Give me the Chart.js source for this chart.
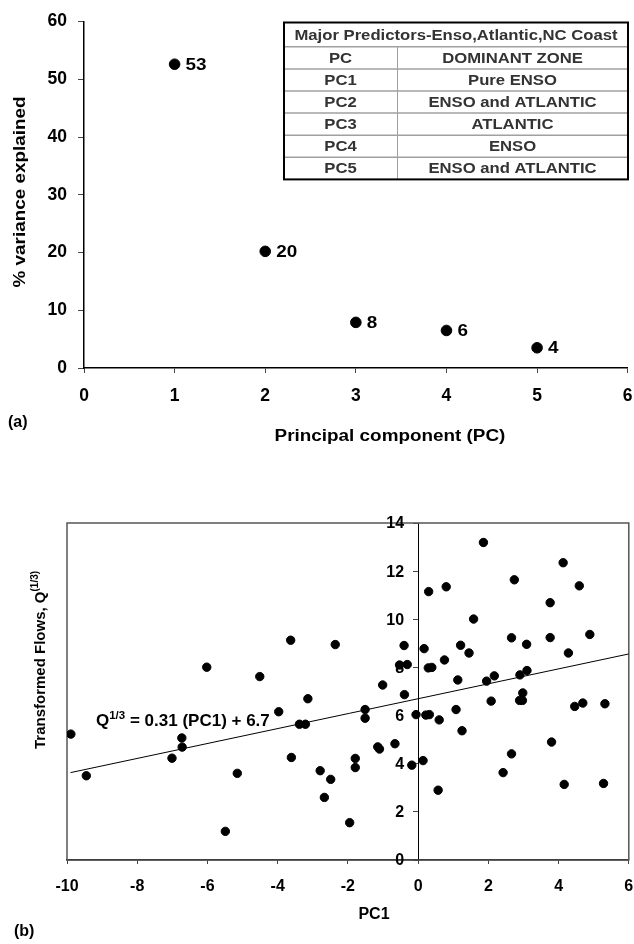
<!DOCTYPE html>
<html>
<head>
<meta charset="utf-8">
<script src="https://cdn.jsdelivr.net/npm/chart.js@4.4.1/dist/chart.umd.min.js"></script>
<style>
  body { margin: 0; background: #fff; }
  #chartA { position: absolute; left: 0; top: 0; }
  #chartB { position: absolute; left: 0; top: 470px; }
</style>
</head>
<body>
<canvas id="chartA" width="634" height="460"></canvas>
<canvas id="chartB" width="634" height="474"></canvas>
<script>
// (a) variance explained by each principal component
const pcNumbers = [1, 2, 3, 4, 5];
const varianceExplained = [52.6, 20.2, 7.9, 6.5, 3.5];
const varianceLabels = ['53', '20', '8', '6', '4'];

const tableTitle = 'Major Predictors-Enso,Atlantic,NC Coast';
const tablePC = ['PC', 'PC1', 'PC2', 'PC3', 'PC4', 'PC5'];
const tableZone = ['DOMINANT ZONE', 'Pure ENSO', 'ENSO and ATLANTIC', 'ATLANTIC', 'ENSO', 'ENSO and ATLANTIC'];

// (b) transformed flows vs PC1
const pc1Scores = [
  -9.89, -9.45, -7.01, -6.73, -6.72, -6.02, -5.49, -5.15, -4.51, -3.97,
  -3.63, -3.61, -3.38, -3.21, -3.14, -2.79, -2.67, -2.49, -2.36, -1.95,
  -1.79, -1.79, -1.51, -1.51, -1.15, -1.10, -1.01, -0.66, -0.53, -0.40,
  -0.39, -0.31, -0.18, -0.06, 0.14, 0.17, 0.22, 0.30, 0.29, 0.32,
  0.39, 0.57, 0.60, 0.75, 0.80, 1.08, 1.13, 1.21, 1.25, 1.45,
  1.58, 1.86, 1.95, 2.08, 2.17, 2.42, 2.66, 2.66, 2.74, 2.89,
  2.97, 2.90, 2.98, 3.09, 3.10, 3.76, 3.76, 3.80, 4.13, 4.16,
  4.28, 4.46, 4.59, 4.69, 4.89, 5.28, 5.32
];
const transformedFlows = [
  5.23, 3.50, 4.23, 5.07, 4.69, 8.01, 1.19, 3.60, 7.62, 6.16,
  9.13, 4.26, 5.64, 5.64, 6.70, 3.71, 2.60, 3.35, 8.95, 1.55,
  4.22, 3.84, 6.25, 5.89, 4.70, 4.61, 7.27, 4.83, 8.10, 8.91,
  6.87, 8.12, 3.94, 6.04, 4.13, 8.78, 6.02, 11.15, 7.98, 6.04,
  8.00, 2.90, 5.82, 8.31, 11.35, 6.25, 7.48, 8.92, 5.37, 8.60,
  10.01, 13.19, 7.43, 6.60, 7.65, 3.63, 4.41, 9.23, 11.64, 6.63,
  6.63, 7.69, 6.94, 8.96, 7.87, 10.69, 9.24, 4.90, 12.35, 3.14,
  8.60, 6.38, 11.39, 6.52, 9.37, 3.18, 6.49
];
const fitLineX = [-9.9, 6];
const fitLineY = [3.63, 8.56];

const FONT = 'Arial, "Liberation Sans", sans-serif';
const WIDE = 1.18; // text in panel (a) is a bit wider than plain Arial

// text stretched horizontally around its own anchor
function wideText(ctx, txt, x, y, align, stretch) {
  ctx.save();
  ctx.translate(x, y);
  ctx.scale(stretch, 1);
  ctx.textAlign = align;
  ctx.fillText(txt, 0, 0);
  ctx.restore();
}

function drawSup(ctx, parts, x, y, size, supSize, rise) {
  let cx = x;
  parts.forEach(function (p) {
    ctx.font = 'bold ' + (p[1] ? supSize : size) + 'px ' + FONT;
    ctx.fillText(p[0], cx, p[1] ? y - rise : y);
    cx += ctx.measureText(p[0]).width;
  });
  return cx - x;
}

function measureSup(ctx, parts, size, supSize) {
  let w = 0;
  parts.forEach(function (p) {
    ctx.font = 'bold ' + (p[1] ? supSize : size) + 'px ' + FONT;
    w += ctx.measureText(p[0]).width;
  });
  return w;
}

// ---------- chart (a) ----------
const extrasA = {
  id: 'extrasA',
  afterDraw(chart) {
    const ctx = chart.ctx;
    const xs = chart.scales.x, ys = chart.scales.y;
    ctx.save();
    ctx.fillStyle = '#000';
    ctx.textBaseline = 'middle';
    ctx.font = 'bold 16px ' + FONT;
    for (let i = 0; i < pcNumbers.length; i++) {
      wideText(ctx, varianceLabels[i], xs.getPixelForValue(pcNumbers[i]) + 11, ys.getPixelForValue(varianceExplained[i]) + 1, 'left', WIDE);
    }

    // axis titles
    wideText(ctx, 'Principal component (PC)', 390, 437, 'center', WIDE);
    ctx.save();
    ctx.translate(21, 192);
    ctx.rotate(-Math.PI / 2);
    wideText(ctx, '% variance explained', 0, 0, 'center', WIDE);
    ctx.restore();

    ctx.textAlign = 'left';
    ctx.fillText('(a)', 8, 423);

    // table
    const left = 284, right = 628, top = 22.5, mid = 397;
    const headH = 24.3, rowH = 22.1;
    const bottom = top + headH + rowH * tablePC.length;
    ctx.strokeStyle = '#a0a0a0';
    ctx.lineWidth = 1.5;
    for (let r = 0; r < tablePC.length; r++) {
      const yy = top + headH + rowH * r;
      ctx.beginPath(); ctx.moveTo(left, yy); ctx.lineTo(right, yy); ctx.stroke();
    }
    ctx.lineWidth = 1;
    ctx.beginPath(); ctx.moveTo(mid + 0.5, top + headH); ctx.lineTo(mid + 0.5, bottom); ctx.stroke();
    ctx.strokeStyle = '#000';
    ctx.lineWidth = 2;
    ctx.strokeRect(left, top, right - left, bottom - top);

    ctx.fillStyle = '#333';
    ctx.font = 'bold 14px ' + FONT;
    wideText(ctx, tableTitle, (left + right) / 2, top + headH / 2 + 1, 'center', 1.19);
    for (let r = 0; r < tablePC.length; r++) {
      const yc = top + headH + rowH * r + rowH / 2 + 1;
      wideText(ctx, tablePC[r], (left + mid) / 2, yc, 'center', 1.19);
      wideText(ctx, tableZone[r], (mid + right) / 2, yc, 'center', 1.19);
    }
    ctx.restore();
  }
};

new Chart(document.getElementById('chartA'), {
  type: 'scatter',
  data: {
    datasets: [{
      data: pcNumbers.map((x, i) => ({ x: x, y: varianceExplained[i] })),
      backgroundColor: '#000',
      borderColor: '#000',
      pointRadius: 5.3,
      pointHoverRadius: 5.3
    }]
  },
  options: {
    responsive: false,
    animation: false,
    events: [],
    layout: { padding: { left: 0, right: 6, top: 19, bottom: 0 } },
    plugins: { legend: { display: false }, tooltip: { enabled: false } },
    scales: {
      x: {
        type: 'linear', min: 0, max: 6,
        afterFit(s) { s.height = 92; s.paddingLeft = 0; s.paddingRight = 4; },
        border: { display: true, color: '#000', width: 1.5 },
        grid: { display: true, drawOnChartArea: false, drawTicks: true, tickLength: 5, color: '#444', lineWidth: 1 },
        ticks: { stepSize: 1, padding: 13, color: '#000', font: { family: FONT, size: 17.5, weight: 'bold' } }
      },
      y: {
        type: 'linear', min: 0, max: 60,
        afterFit(s) { s.width = 84; },
        border: { display: true, color: '#000', width: 1.5 },
        grid: { display: true, drawOnChartArea: false, drawTicks: true, tickLength: 6, color: '#444', lineWidth: 1 },
        ticks: { stepSize: 10, padding: 11, color: '#000', font: { family: FONT, size: 17.5, weight: 'bold' } }
      }
    }
  },
  plugins: [extrasA]
});

// ---------- chart (b) ----------
const extrasB = {
  id: 'extrasB',
  beforeDatasetsDraw(chart) {
    const ctx = chart.ctx, a = chart.chartArea;
    const xs = chart.scales.x, ys = chart.scales.y;
    ctx.save();
    ctx.strokeStyle = '#555';
    ctx.lineWidth = 1.5;
    ctx.strokeRect(a.left, a.top, a.right - a.left, a.bottom - a.top);

    // y tick labels sit left of the axis that crosses at x = 0
    ctx.fillStyle = '#000';
    ctx.font = 'bold 16px ' + FONT;
    ctx.textAlign = 'right';
    ctx.textBaseline = 'middle';
    const axisX = xs.getPixelForValue(0);
    ys.ticks.forEach(function (t) {
      ctx.fillText(String(t.value), axisX - 14, ys.getPixelForValue(t.value) + 1);
    });
    ctx.restore();
  },
  afterDraw(chart) {
    const ctx = chart.ctx;
    ctx.save();
    ctx.fillStyle = '#000';
    ctx.textBaseline = 'alphabetic';
    ctx.textAlign = 'left';

    // regression equation
    drawSup(ctx, [['Q', false], ['1/3', true], [' = 0.31 (PC1) + 6.7', false]], 96, 256, 17, 11.5, 7);

    // y axis title, rotated
    const parts = [['Transformed Flows, Q', false], ['(1/3)', true]];
    const w = measureSup(ctx, parts, 15, 10);
    ctx.save();
    ctx.translate(45, 190);
    ctx.rotate(-Math.PI / 2);
    drawSup(ctx, parts, -w / 2, 0, 15, 10, 7);
    ctx.restore();

    ctx.font = 'bold 16px ' + FONT;
    ctx.textBaseline = 'middle';
    ctx.textAlign = 'center';
    ctx.fillText('PC1', 374, 445);
    ctx.textAlign = 'left';
    ctx.fillText('(b)', 14, 462);
    ctx.restore();
  }
};

new Chart(document.getElementById('chartB'), {
  type: 'scatter',
  data: {
    datasets: [{
      data: pc1Scores.map((x, i) => ({ x: x, y: transformedFlows[i] })),
      backgroundColor: '#000',
      borderColor: '#000',
      pointRadius: 4.2,
      pointHoverRadius: 4.2,
      order: 0
    }, {
      type: 'line',
      data: fitLineX.map((x, i) => ({ x: x, y: fitLineY[i] })),
      borderColor: '#000',
      borderWidth: 1,
      pointRadius: 0,
      fill: false,
      order: 1
    }]
  },
  options: {
    responsive: false,
    animation: false,
    events: [],
    layout: { padding: { left: 67, right: 3, top: 53, bottom: 0 } },
    plugins: { legend: { display: false }, tooltip: { enabled: false } },
    scales: {
      x: {
        type: 'linear', min: -10, max: 6,
        afterFit(s) { s.height = 84; s.paddingLeft = 0; s.paddingRight = 2; },
        border: { display: true, color: '#000', width: 1.5 },
        grid: { display: true, drawOnChartArea: false, drawTicks: true, tickLength: 4, color: '#444', lineWidth: 1 },
        ticks: { stepSize: 2, padding: 13, color: '#000', font: { family: FONT, size: 16, weight: 'bold' } }
      },
      y: {
        type: 'linear', min: 0, max: 14,
        position: { x: 0 },
        border: { display: true, color: '#000', width: 1 },
        grid: { display: true, drawOnChartArea: false, drawTicks: true, tickLength: 5, color: '#444', lineWidth: 1 },
        ticks: { stepSize: 2, display: false }
      }
    }
  },
  plugins: [extrasB]
});
</script>
</body>
</html>
